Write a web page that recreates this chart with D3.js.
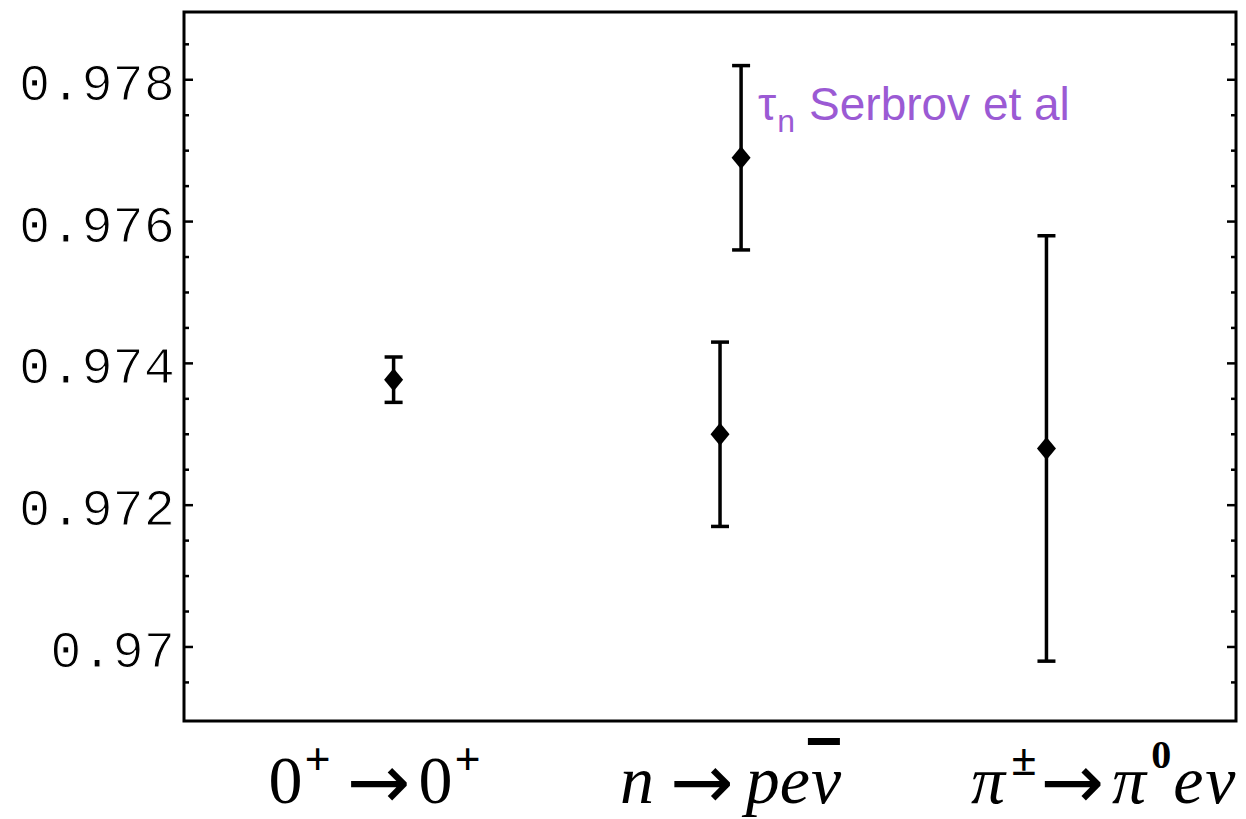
<!DOCTYPE html>
<html>
<head>
<meta charset="utf-8">
<script src="https://cdn.jsdelivr.net/npm/d3@7"></script>
<style>
  html, body { margin: 0; padding: 0; background: #fff; }
  svg { display: block; }
</style>
</head>
<body>
<svg id="chart" width="1246" height="819"></svg>
<script>
// |V_ud| determinations from three decay channels (central value ± error)
const pointNames  = ["0+ → 0+", "n → pev̄", "n → pev̄ (τn Serbrov et al)", "π± → π0eν"];
const pointX      = [1.0, 2.55, 2.65, 4.1];
const pointValues = [0.97377, 0.9730, 0.9769, 0.9728];
const pointErrors = [0.00032, 0.0013, 0.0013, 0.0030];

// y axis ticks
const yTicks      = [0.970, 0.972, 0.974, 0.976, 0.978];
const yTickLabels = ["0.97", "0.972", "0.974", "0.976", "0.978"];
const yMinorStep  = 0.0005;

// decay-channel labels under the frame: [text, style, extra horizontal offset]
const categoryX = [0.91, 2.6, 4.37];
const categoryLabels = [
  [["0", "r", 0], ["+", "sup", 2], ["→", "arrow", 16], ["0", "r", 8], ["+", "sup", 2]],
  [["n", "i", 0], ["→", "arrow", 16], ["p", "i", 12], ["e", "i", 0], ["ν", "ibar", 1]],
  [["π", "i", 0], ["±", "sup", 6], ["→", "arrow", 4], ["π", "i", 8], ["0", "sup0", 5], ["e", "i", 2], ["ν", "i", 2]]
];

// annotation for the Serbrov lifetime point
const noteIndex = 2;
const noteParts = [["τ", "main", 0], ["n", "sub", 1], ["Serbrov et al", "main", 14]];

const svg = d3.select("#chart");
const frame = { left: 184, right: 1236, top: 12, bottom: 721 };

const x = d3.scaleLinear().domain([0, 5]).range([183, 1236]);
const y = d3.scaleLinear().domain([0.96897, 0.97897]).range([720, 11]);

// frame
svg.append("rect")
  .attr("x", frame.left).attr("y", frame.top)
  .attr("width", frame.right - frame.left)
  .attr("height", frame.bottom - frame.top)
  .attr("fill", "none").attr("stroke", "#000").attr("stroke-width", 3);

// minor ticks (inside frame, both sides)
const minor = d3.range(0.9690, 0.9791, yMinorStep)
  .filter(v => yTicks.every(t => Math.abs(t - v) > 1e-7))
  .filter(v => y(v) > frame.top + 4 && y(v) < frame.bottom - 4);

const tickG = svg.append("g").attr("stroke", "#000").attr("stroke-width", 2.5);
tickG.selectAll("line.minl").data(minor).join("line")
  .attr("x1", frame.left).attr("x2", frame.left + 5)
  .attr("y1", d => y(d)).attr("y2", d => y(d));
tickG.selectAll("line.minr").data(minor).join("line")
  .attr("x1", frame.right).attr("x2", frame.right - 5)
  .attr("y1", d => y(d)).attr("y2", d => y(d));
tickG.selectAll("line.majl").data(yTicks).join("line")
  .attr("x1", frame.left).attr("x2", frame.left + 9)
  .attr("y1", d => y(d)).attr("y2", d => y(d));
tickG.selectAll("line.majr").data(yTicks).join("line")
  .attr("x1", frame.right).attr("x2", frame.right - 9)
  .attr("y1", d => y(d)).attr("y2", d => y(d));

// tick labels (thin monospace digits)
svg.append("g").selectAll("text").data(yTicks).join("text")
  .attr("x", 175)
  .attr("y", d => y(d) + 20)
  .attr("text-anchor", "end")
  .attr("font-family", "'Liberation Mono', 'DejaVu Sans Mono', monospace")
  .attr("font-size", 52)
  .attr("fill", "#000")
  .attr("stroke", "#fff")
  .attr("stroke-width", 1.1)
  .text((d, i) => yTickLabels[i]);

// error bars
const pts = pointValues.map((v, i) => ({ x: pointX[i], v, e: pointErrors[i], name: pointNames[i] }));
const capHalf = 9;
const eg = svg.append("g").attr("stroke", "#000").attr("stroke-width", 3.5).attr("fill", "none");
eg.selectAll("line.stem").data(pts).join("line")
  .attr("x1", d => x(d.x)).attr("x2", d => x(d.x))
  .attr("y1", d => y(d.v + d.e)).attr("y2", d => y(d.v - d.e));
eg.selectAll("line.top").data(pts).join("line")
  .attr("x1", d => x(d.x) - capHalf).attr("x2", d => x(d.x) + capHalf)
  .attr("y1", d => y(d.v + d.e)).attr("y2", d => y(d.v + d.e));
eg.selectAll("line.bot").data(pts).join("line")
  .attr("x1", d => x(d.x) - capHalf).attr("x2", d => x(d.x) + capHalf)
  .attr("y1", d => y(d.v - d.e)).attr("y2", d => y(d.v - d.e));

// diamond markers
svg.append("g").selectAll("path").data(pts).join("path")
  .attr("transform", d => `translate(${x(d.x)},${y(d.v)})`)
  .attr("d", "M0,-11.5L9.5,0L0,11.5L-9.5,0Z")
  .attr("fill", "#000");

// category labels
const mainSize = 68;
categoryLabels.forEach((parts, i) => {
  const t = svg.append("text")
    .attr("x", x(categoryX[i]))
    .attr("y", 803)
    .attr("text-anchor", "middle")
    .attr("font-family", "'Liberation Serif', 'Times New Roman', serif")
    .attr("font-size", mainSize)
    .attr("fill", "#000");
  let shift = 0;
  const barred = [];
  parts.forEach(([txt, st, gap]) => {
    const sp = t.append("tspan").text(txt);
    let target = 0;
    if (st === "sup") { target = -28; sp.attr("font-size", 46).attr("font-weight", "bold"); }
    else if (st === "sup0") { target = -35; sp.attr("font-size", 40).attr("font-weight", "bold"); }
    if (st === "arrow") {
      sp.attr("font-family", "'DejaVu Sans', sans-serif")
        .attr("font-size", 76);
      target = 5;
    }
    if (st === "i" || st === "ibar") sp.attr("font-style", "italic");
    if (target !== shift) { sp.attr("dy", target - shift); shift = target; }
    if (gap) sp.attr("dx", gap);
    if (st === "ibar") barred.push(sp);
  });
  barred.forEach(sp => {
    const b = sp.node().getBBox();
    svg.append("rect")
      .attr("x", b.x - 3).attr("y", 738)
      .attr("width", b.width + 1).attr("height", 7)
      .attr("fill", "#000");
  });
});

// annotation
const np = pts[noteIndex];
const note = svg.append("text")
  .attr("x", x(np.x) + 17)
  .attr("y", y(np.v) - 38)
  .attr("font-family", "'Liberation Sans', Arial, sans-serif")
  .attr("font-size", 46)
  .attr("fill", "#9b5ad4");
let nshift = 0;
noteParts.forEach(([txt, st, gap]) => {
  const sp = note.append("tspan").text(txt);
  const target = st === "sub" ? 12 : 0;
  if (st === "sub") sp.attr("font-size", 32);
  if (target !== nshift) { sp.attr("dy", target - nshift); nshift = target; }
  if (gap) sp.attr("dx", gap);
});
</script>
</body>
</html>
